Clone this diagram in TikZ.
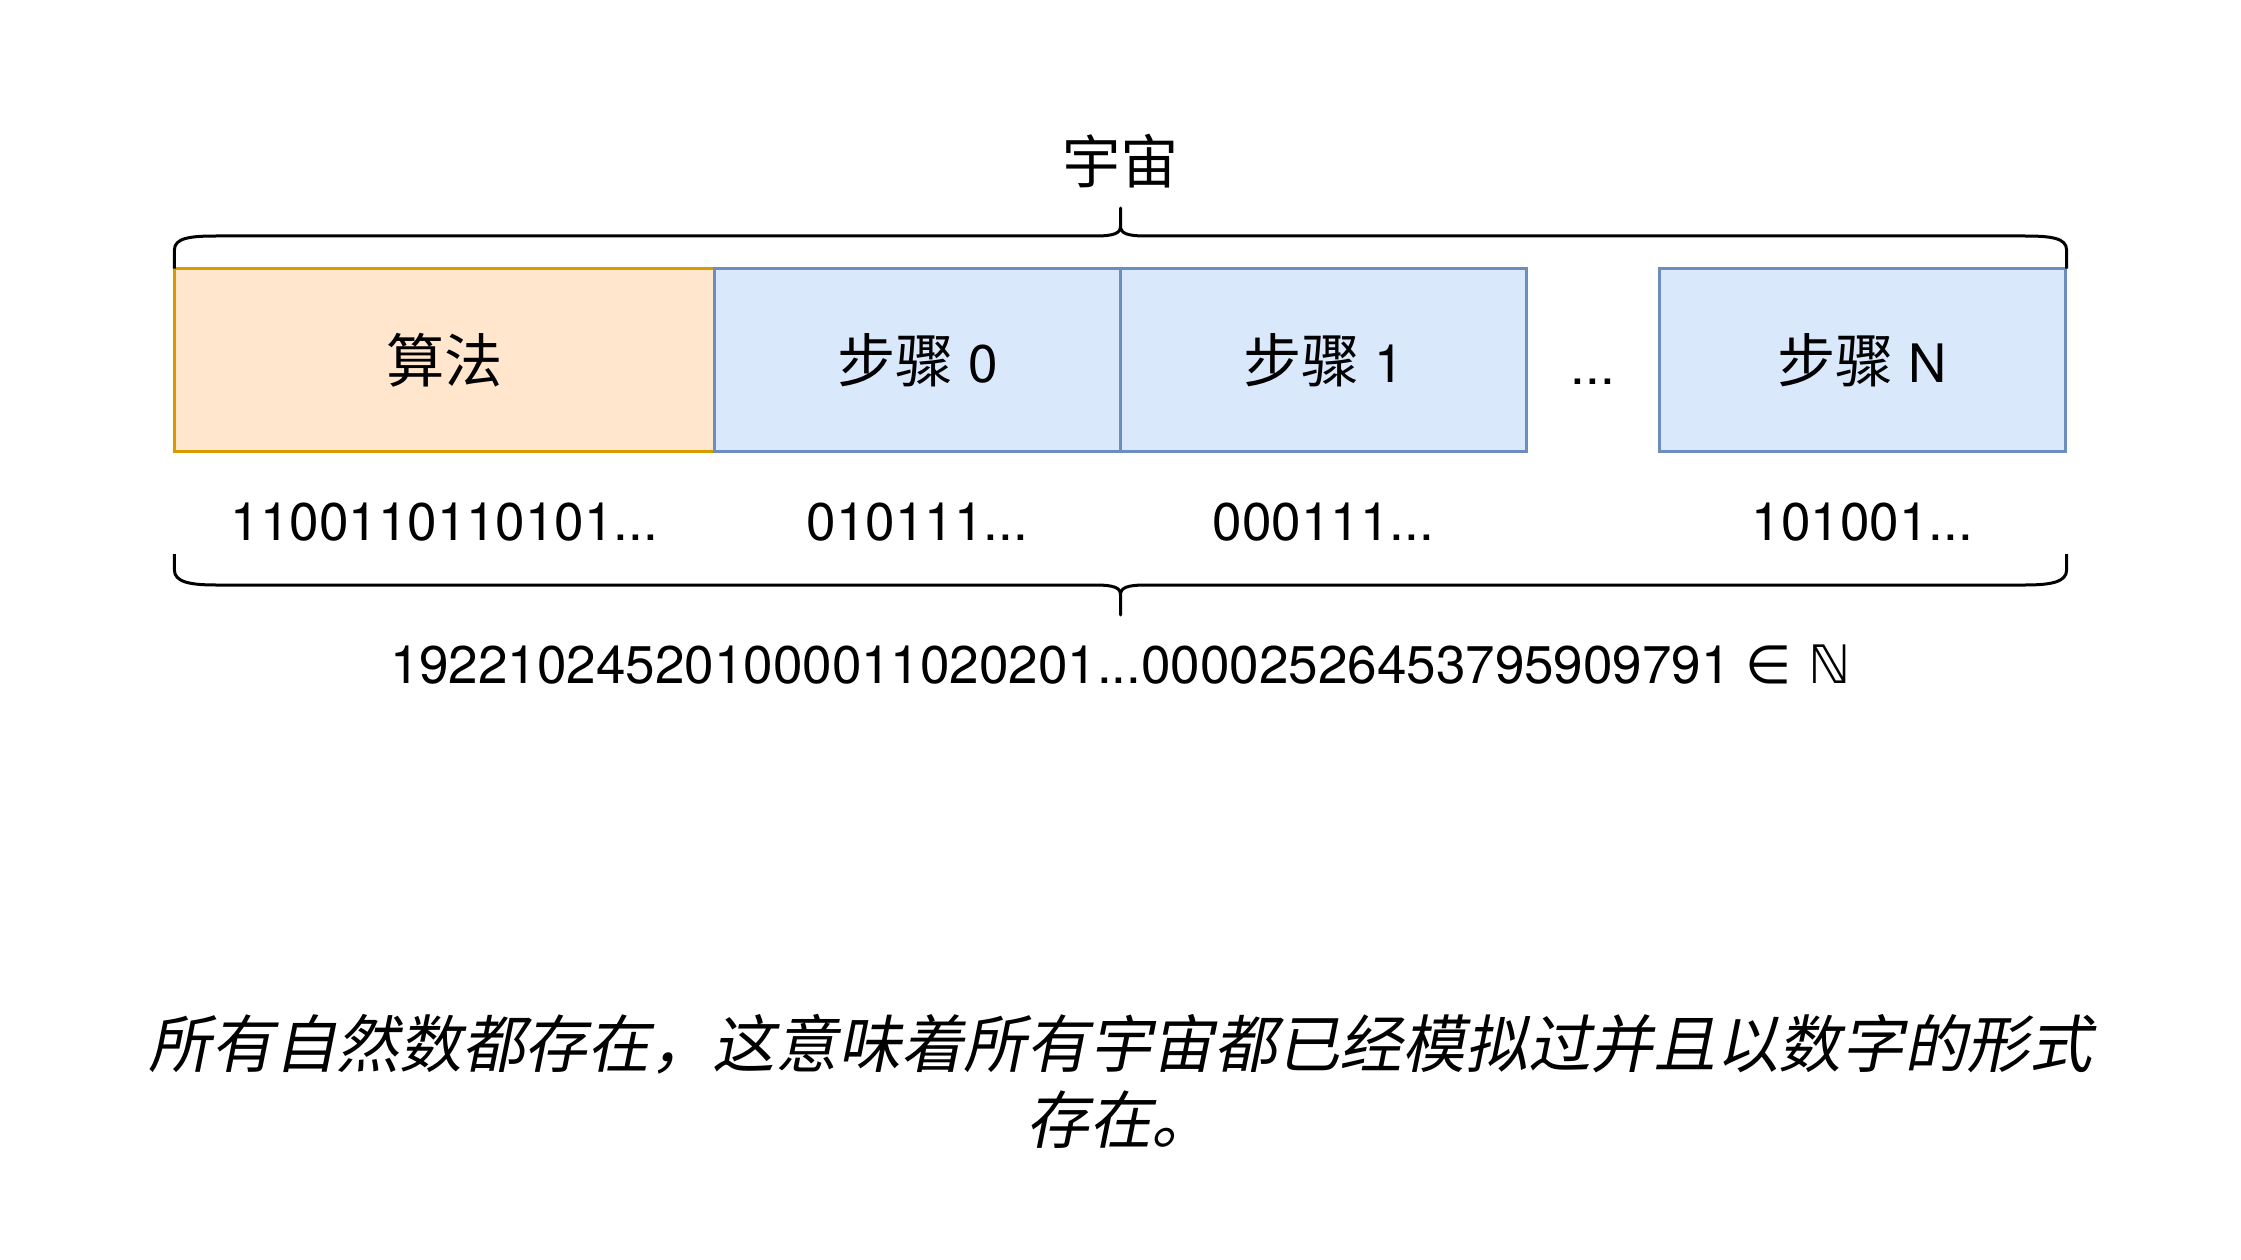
\documentclass[tikz,border=0pt]{standalone}
\usepackage{fontspec}
\setmainfont{TeX Gyre Heros}
\newfontfamily\cjk{Noto Sans CJK SC}[Scale=1.1]
\newfontfamily\cjkslant{Noto Sans CJK SC}[Scale=1.1,FakeSlant=0.2]
\newfontfamily\dejavu{DejaVu Sans}
\usepackage{tikz}
\usetikzlibrary{positioning, calc}

\definecolor{algfill}{HTML}{FFE6CC}
\definecolor{algline}{HTML}{D79B00}
\definecolor{stepfill}{HTML}{DAE8FC}
\definecolor{stepline}{HTML}{6C8EBF}

\tikzset{
  bigtext/.style={font=\fontsize{53}{64}\selectfont},
  cell/.style={bigtext, draw, line width=3pt, minimum height=183pt,
               inner sep=0pt, outer sep=0pt},
  algcell/.style={cell, fill=algfill, draw=algline, minimum width=540pt},
  stepcell/.style={cell, fill=stepfill, draw=stepline, minimum width=406pt},
  bits/.style={bigtext, below=51.5pt of #1, inner sep=0pt},
  curly/.style={line width=3pt, line join=round},
}

\begin{document}
\begin{tikzpicture}[x=1pt, y=-1pt]
    \useasboundingbox (0,0) rectangle (2241,1260);

    % the universe as a row of cells
    \node[algcell] (alg) at (444.4,360.2) {{\cjk 算法}};
    \node[stepcell, right=0pt of alg] (step0) {{\cjk 步骤} 0};
    \node[stepcell, right=0pt of step0] (step1) {{\cjk 步骤} 1};
    \node[stepcell, right=133pt of step1] (stepN) {{\cjk 步骤} N};
    \node[bigtext, anchor=base, inner sep=0pt] (dots)
      at ($(step1.east)!0.5!(stepN.west) + (0,24)$) {...};

    \node[bigtext] (universe) at (1120.5,161.5) {{\cjk 宇宙}};

    % binary strings
    \node[bits=alg] (algbits) {1100110110101...};
    \node[bits=step0] (bits0) {010111...};
    \node[bits=step1] (bits1) {000111...};
    \node[bits=stepN] (bitsN) {101001...};

    % braces
    \draw[curly] (174.4,268.7) -- (174.4,250)
      .. controls (174.4,238) and (190,236) .. (216,236) -- (1095,236)
      .. controls (1115,236) and (1120.5,233) .. (1120.5,226) -- (1120.5,208)
      -- (1120.5,226)
      .. controls (1120.5,233) and (1126,236) .. (1146,236) -- (2025,236)
      .. controls (2051,236) and (2066.6,238) .. (2066.6,250) -- (2066.6,268.7);
    \draw[curly] (174.4,554) -- (174.4,570)
      .. controls (174.4,582) and (190,585) .. (216,585) -- (1095,585)
      .. controls (1115,585) and (1120.5,588) .. (1120.5,595) -- (1120.5,615)
      -- (1120.5,595)
      .. controls (1120.5,588) and (1126,585) .. (1146,585) -- (2025,585)
      .. controls (2051,585) and (2066.6,582) .. (2066.6,570) -- (2066.6,554);

    \node[bigtext, anchor=base, inner sep=0pt] (number) at (1120.5,683)
      {192210245201000011020201...00002526453795909791 {\dejavu ∈ ℕ}};

    \node[align=center, inner sep=0pt, font=\fontsize{57}{76}\selectfont\cjkslant]
      (claim) at (1120.5,1081)
      {所有自然数都存在，这意味着所有宇宙都已经模拟过并且以数字的形式\\存在。};
\end{tikzpicture}
\end{document}
